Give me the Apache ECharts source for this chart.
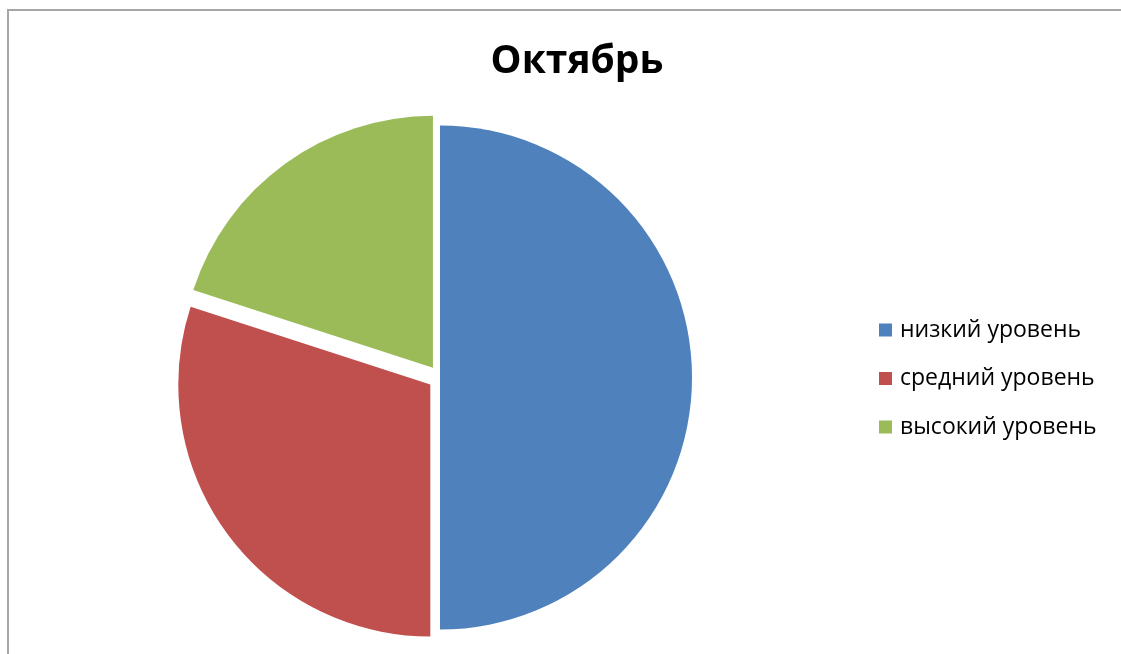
<!DOCTYPE html>
<html>
<head>
<meta charset="utf-8">
<script src="https://cdn.jsdelivr.net/npm/echarts@6/dist/echarts.min.js"></script>
<style>
html,body{margin:0;padding:0;background:#fff;}
#frame{position:absolute;left:7px;top:9px;width:1200px;height:700px;border-left:2px solid #a6a6a6;border-top:2px solid #a6a6a6;}
#chart{position:absolute;left:0;top:0;width:1121px;height:654px;}
</style>
</head>
<body>
<div id="frame"></div>
<div id="chart"></div>
<script>
const titleText = 'Октябрь';
const categories = ['низкий уровень', 'средний уровень', 'высокий уровень'];
const values = [50, 30, 20];
const exploded = [false, true, true];
const colors = ['#4F81BD', '#C0504D', '#9BBB59'];

const chart = echarts.init(document.getElementById('chart'), null, {renderer: 'canvas'});
const font = '"Open Sans", "Noto Sans", sans-serif';
chart.setOption({
  animation: false,
  title: {
    text: titleText,
    left: 572, top: 37, textAlign: 'center',
    textStyle: {fontFamily: font, fontWeight: 'bold', fontSize: 39, color: '#000'}
  },
  legend: {
    orient: 'vertical',
    left: 879, top: 318,
    padding: 0,
    itemWidth: 13, itemHeight: 13, itemGap: 24.5,
    icon: 'rect',
    selectedMode: false,
    data: categories,
    textStyle: {fontFamily: font, fontSize: 23, lineHeight: 24, color: '#000', padding: [0, 0, 0, 3]}
  },
  series: [{
    type: 'pie',
    center: [440, 377.5],
    radius: 252,
    startAngle: 90,
    clockwise: true,
    selectedMode: 'multiple',
    selectedOffset: 12,
    label: {show: false},
    labelLine: {show: false},
    emphasis: {disabled: true},
    data: categories.map((c, i) => ({name: c, value: values[i], selected: exploded[i], itemStyle: {color: colors[i]}}))
  }]
});
</script>
</body>
</html>
